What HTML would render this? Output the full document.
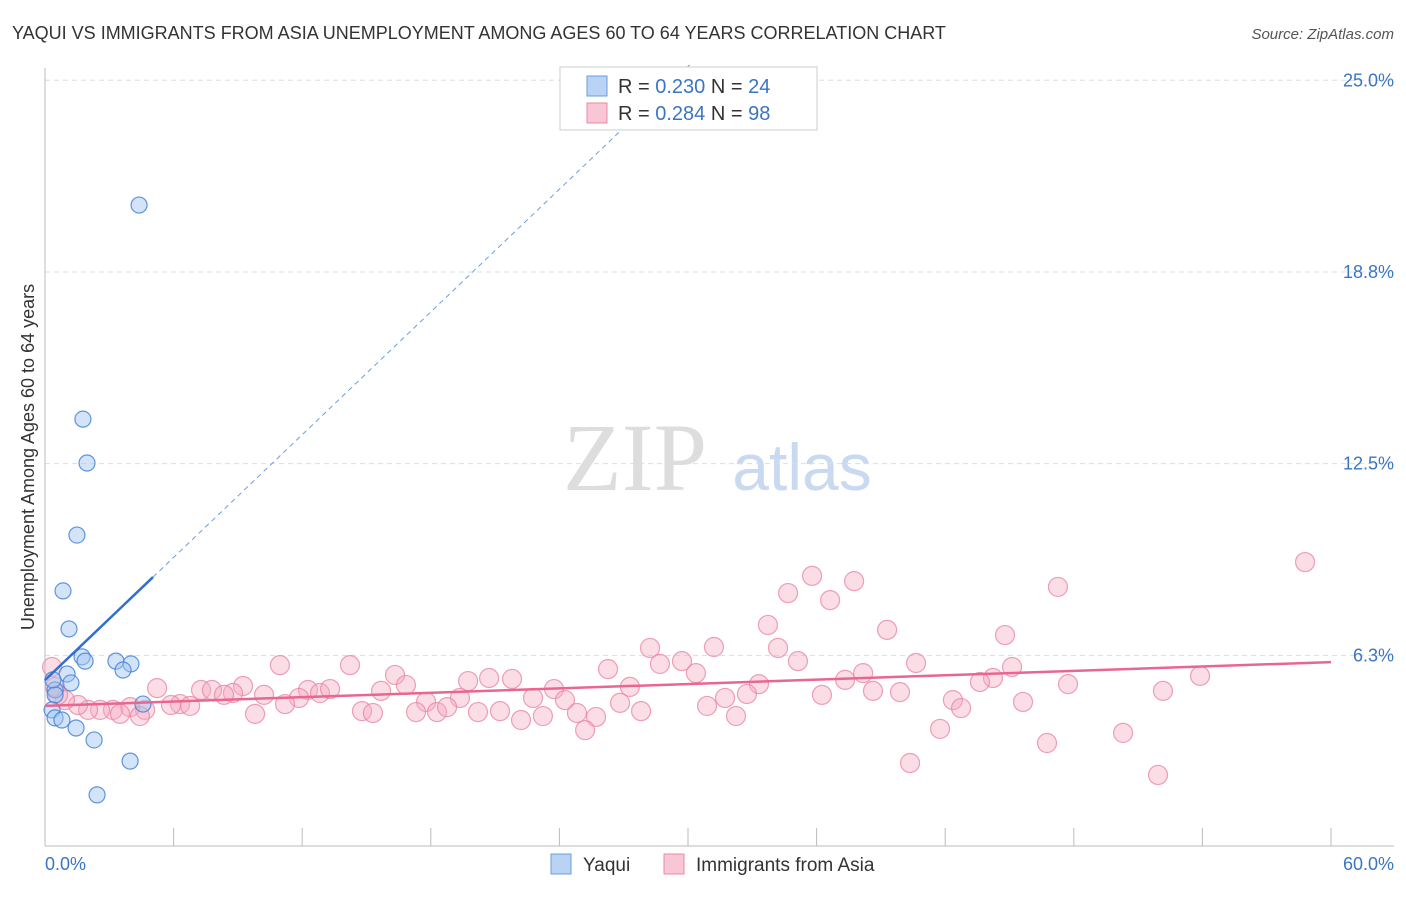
<!DOCTYPE html>
<html><head><meta charset="utf-8"><style>
body{margin:0;background:#fff;font-family:"Liberation Sans",sans-serif}
svg text{font-family:"Liberation Sans",sans-serif}
</style></head><body>
<svg id="chart" width="1406" height="892" viewBox="0 0 1406 892" xmlns="http://www.w3.org/2000/svg">
<text x="12" y="39" font-size="18" fill="#333">YAQUI VS IMMIGRANTS FROM ASIA UNEMPLOYMENT AMONG AGES 60 TO 64 YEARS CORRELATION CHART</text>
<text x="1394" y="39" font-size="15" fill="#555" font-style="italic" text-anchor="end">Source: ZipAtlas.com</text>
<text x="635" y="490" font-size="96" fill="#ddd" font-family="Liberation Serif" text-anchor="middle" style="font-family:'Liberation Serif',serif">ZIP</text>
<text x="802" y="490" font-size="66" fill="#c9daf0" text-anchor="middle">atlas</text>
<g id="grid"></g><g id="axes"></g><g id="pts"></g><g id="lines"></g>
<text transform="translate(34,457) rotate(-90)" font-size="18" fill="#333" text-anchor="middle">Unemployment Among Ages 60 to 64 years</text>
<text x="45" y="870" font-size="18" fill="#3a75c4">0.0%</text>
<text x="1394" y="870" font-size="18" fill="#3a75c4" text-anchor="end">60.0%</text>
<g>
<rect x="560" y="67" width="257" height="63" fill="#fff" stroke="#ccc"/>
<rect x="587" y="76" width="20" height="20" fill="#b8d3f3" stroke="#6a9ee0"/>
<rect x="587" y="103" width="20" height="20" fill="#f8c6d4" stroke="#e98aa6"/>
<text x="618" y="93" font-size="20" fill="#333">R = <tspan fill="#3a75c4">0.230</tspan>   N = <tspan fill="#3a75c4">24</tspan></text>
<text x="618" y="120" font-size="20" fill="#333">R = <tspan fill="#3a75c4">0.284</tspan>   N = <tspan fill="#3a75c4">98</tspan></text>
</g>
<g>
<rect x="551" y="854" width="20" height="20" fill="#b8d3f3" stroke="#6a9ee0"/>
<text x="583" y="871" font-size="19" fill="#333">Yaqui</text>
<rect x="664" y="854" width="20" height="20" fill="#f8c6d4" stroke="#e98aa6"/>
<text x="696" y="871" font-size="19" fill="#333">Immigrants from Asia</text>
</g>
</svg>
<script>
const yTicks=[6.25,12.5,18.75,25];
const yTickLabels=["6.3%","12.5%","18.8%","25.0%"];
const xTicks=[0,6,12,18,24,30,36,42,48,54,60];
const yaquiX=[4.39,1.77,1.96,1.49,0.84,1.12,1.73,1.87,3.31,4.01,3.64,1.03,1.21,0.47,0.47,0.33,0.47,0.79,1.45,2.29,3.97,2.43,4.57,0.37];
const yaquiY=[20.93,13.95,12.52,10.17,8.35,7.11,6.20,6.06,6.06,5.97,5.77,5.64,5.35,5.12,4.96,4.47,4.21,4.14,3.88,3.49,2.80,1.70,4.66,5.45];
const asiaX=[58.79,35.79,37.75,47.26,34.67,36.63,33.73,39.29,44.79,28.23,31.21,34.20,10.96,14.23,26.27,28.69,29.72,30.37,35.13,40.64,45.12,38.17,53.89,16.33,19.74,20.72,21.79,44.23,47.73,52.16,5.23,7.28,7.79,9.24,8.77,8.35,10.22,12.27,12.83,13.30,15.68,16.84,23.75,27.29,33.31,37.33,38.63,39.89,43.62,36.25,32.75,31.73,19.36,22.77,24.26,17.78,11.85,11.20,6.30,5.88,4.67,3.97,3.17,2.57,2.01,1.54,0.93,0.61,0.47,0.33,6.77,9.80,14.79,15.30,17.31,18.29,18.76,20.20,21.23,22.21,23.23,24.82,25.71,25.20,26.83,27.81,30.89,32.24,42.36,42.74,45.63,41.76,46.75,50.30,40.36,51.93,3.50,4.43];
const asiaY=[9.29,8.84,8.67,8.48,8.28,8.05,7.24,7.08,6.91,6.49,6.52,6.49,5.93,5.93,5.80,5.97,6.06,5.67,6.06,6.00,5.87,5.67,5.58,5.61,5.41,5.51,5.48,5.51,5.31,5.09,5.18,5.12,5.12,5.25,5.02,4.96,4.96,5.12,5.02,5.15,5.09,5.28,5.15,5.22,5.31,5.45,5.09,5.05,5.38,4.96,4.99,4.86,4.86,4.86,4.79,4.73,4.86,4.66,4.66,4.63,4.47,4.56,4.47,4.47,4.47,4.63,4.79,4.96,5.22,5.87,4.60,4.34,4.43,4.37,4.40,4.40,4.56,4.40,4.43,4.14,4.27,4.37,4.24,3.81,4.70,4.43,4.60,4.27,4.79,4.53,4.73,3.85,3.39,3.72,2.74,2.35,4.34,4.27];
const yaquiFit=[5.44,0.667];
const asiaFit=[4.6,0.0238];
const NS="http://www.w3.org/2000/svg";
const X=v=>45+v*(1286/60);
const Y=v=>847-v*30.67;
function mk(tag,attrs,parent){const e=document.createElementNS(NS,tag);for(const k in attrs)e.setAttribute(k,attrs[k]);parent.appendChild(e);return e;}
const grid=document.getElementById('grid'),axes=document.getElementById('axes'),pts=document.getElementById('pts'),lines=document.getElementById('lines');
yTicks.forEach((t,i)=>{
  const l=mk('line',{x1:45,x2:1394,y1:Y(t),y2:Y(t),stroke:'#ddd','stroke-dasharray':'5,4'},grid);
  
  
  const tx=mk('text',{x:1394,y:Y(t)+6,'font-size':18,fill:'#3a75c4','text-anchor':'end'},grid);
  tx.textContent=yTickLabels[i];
  
  
});
const ya=mk('line',{x1:45,x2:45,y1:68,y2:846,stroke:'#bbb'},axes);


const xa=mk('line',{x1:45,x2:1394,y1:846,y2:846,stroke:'#bbb'},axes);


xTicks.forEach(t=>{
  const l=mk('line',{x1:X(t),x2:X(t),y1:828,y2:846,stroke:'#bbb'},axes);
  
  
});
asiaX.forEach((x,i)=>{
  const c=mk('circle',{cx:X(x),cy:Y(asiaY[i]),r:9.5,fill:'rgba(246,170,192,0.4)',stroke:'rgba(232,130,160,0.75)','stroke-width':1.2},pts);
  
  
});
yaquiX.forEach((x,i)=>{
  const c=mk('circle',{cx:X(x),cy:Y(yaquiY[i]),r:8,fill:'rgba(160,196,240,0.45)',stroke:'rgba(70,130,215,0.85)','stroke-width':1.2},pts);
  
  
});
const yEnd=(25.5-yaquiFit[0])/yaquiFit[1];
const d=mk('line',{x1:X(5.04),y1:Y(yaquiFit[0]+yaquiFit[1]*5.04),x2:X(yEnd),y2:Y(25.5),stroke:'#6a9ee0','stroke-width':1,'stroke-dasharray':'5,4'},lines);


const s=mk('line',{x1:X(0),y1:Y(yaquiFit[0]),x2:X(5.04),y2:Y(yaquiFit[0]+yaquiFit[1]*5.04),stroke:'#2f6fd0','stroke-width':2.5},lines);


const p=mk('line',{x1:X(0),y1:Y(asiaFit[0]),x2:X(60),y2:Y(asiaFit[0]+asiaFit[1]*60),stroke:'#e8668f','stroke-width':2.5},lines);


</script>
</body></html>
